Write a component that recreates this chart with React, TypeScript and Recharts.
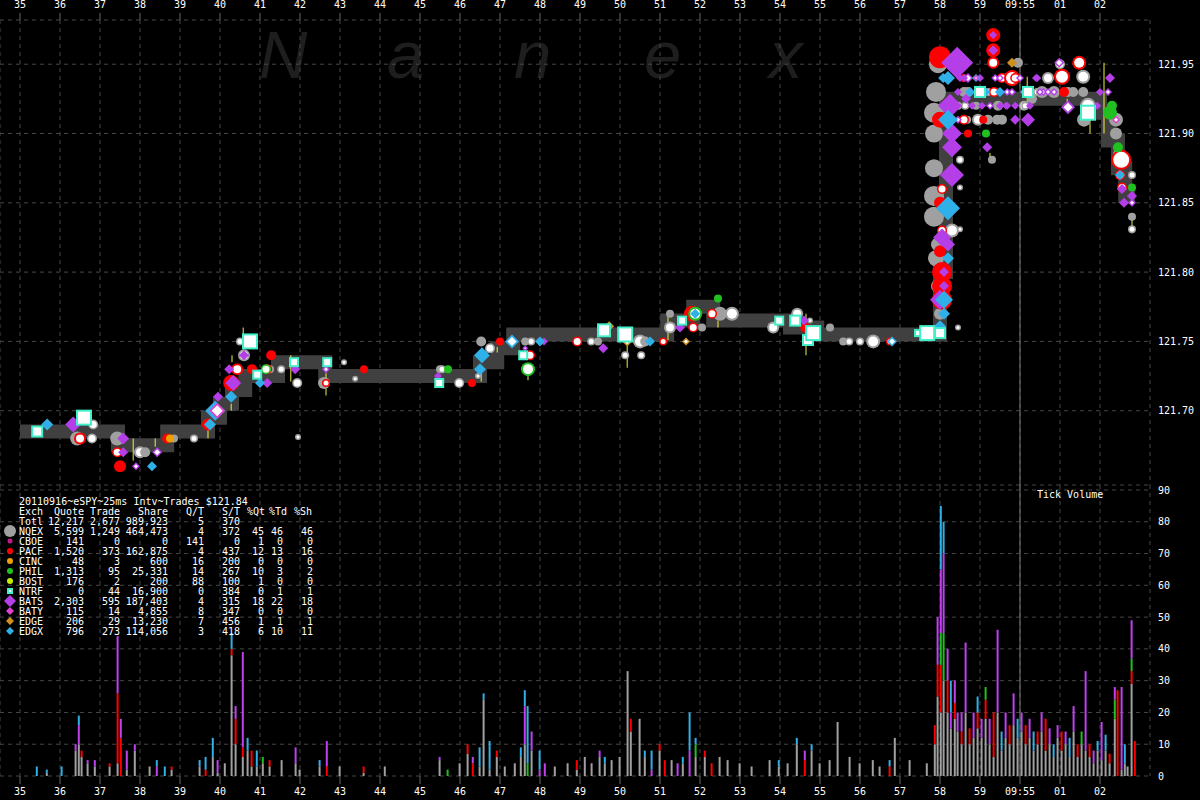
import React from 'react';
import {
  ComposedChart, Line, Scatter, Bar, XAxis, YAxis, CartesianGrid, ReferenceLine, ErrorBar,
} from 'recharts';

const MONO = '"DejaVu Sans Mono", "Liberation Mono", monospace';

// ---------- axes ----------
const minuteTicks = [35, 36, 37, 38, 39, 40, 41, 42, 43, 44, 45, 46, 47, 48, 49, 50, 51, 52, 53, 54, 55, 56, 57, 58, 59, 60, 61, 62];
const minuteLabels = ['35', '36', '37', '38', '39', '40', '41', '42', '43', '44', '45', '46', '47', '48', '49', '50', '51', '52', '53', '54', '55', '56', '57', '58', '59', '09:55', '01', '02'];
const priceTicks = [121.65, 121.7, 121.75, 121.8, 121.85, 121.9, 121.95];
const volumeTicks = [0, 10, 20, 30, 40, 50, 60, 70, 80, 90];
const timeDomain: [number, number] = [34.5, 63.25];
const priceDomain: [number, number] = [121.6464, 121.9819];
const volumeDomain: [number, number] = [0, 91.57];

// ---------- quote band (mid price, stepped) ----------
const quoteBand: [number, number][] = [
  [35.0, 121.685], [37.45, 121.675], [38.68, 121.685], [39.7, 121.695], [40.0, 121.705],
  [40.3, 121.715], [40.63, 121.725], [41.45, 121.735], [42.63, 121.725], [46.5, 121.735],
  [46.93, 121.745], [47.33, 121.755], [51.18, 121.765], [51.83, 121.775], [52.33, 121.765],
  [54.25, 121.76], [54.93, 121.755], [57.9, 121.755], [58.0, 121.8], [58.15, 121.925],
  [62.0, 121.915], [62.2, 121.895], [62.45, 121.875], [62.63, 121.855], [62.88, 121.855],
];

// ---------- trades / quotes: [minute, price, size, hollow] ----------
type Pt = [number, number, number, number];

const nqexPts: Pt[] = [
  [36.43, 121.68, 7, 0], [36.83, 121.69, 5, 1], [36.8, 121.68, 5, 1], [37.43, 121.68, 7, 0],
  [38.0, 121.67, 6, 1], [38.13, 121.67, 5, 0], [38.85, 121.68, 4, 0], [39.35, 121.68, 4, 1],
  [40.5, 121.75, 4, 1], [40.6, 121.74, 6, 1], [41.25, 121.73, 4, 0], [41.53, 121.73, 4, 1],
  [41.93, 121.72, 5, 1], [41.95, 121.681, 3, 1], [42.6, 121.72, 6, 0], [43.1, 121.735, 3, 1],
  [43.38, 121.723, 3, 1], [45.5, 121.73, 4, 0], [45.55, 121.73, 4, 1], [45.98, 121.72, 5, 1],
  [46.45, 121.725, 3, 1], [46.53, 121.75, 5, 0], [46.75, 121.745, 5, 1], [47.63, 121.75, 4, 0],
  [47.78, 121.75, 4, 1], [49.28, 121.75, 4, 1], [49.45, 121.75, 4, 0], [50.13, 121.74, 4, 1],
  [50.5, 121.75, 7, 1], [50.63, 121.75, 5, 0], [50.53, 121.74, 4, 1], [51.25, 121.77, 4, 0],
  [51.25, 121.76, 6, 1], [52.05, 121.76, 4, 0], [52.5, 121.77, 7, 0], [52.8, 121.77, 7, 1],
  [53.83, 121.76, 6, 1], [54.43, 121.77, 6, 1], [54.75, 121.765, 3, 1], [55.25, 121.76, 4, 0],
  [55.58, 121.75, 4, 0], [55.73, 121.75, 4, 1], [56.0, 121.75, 4, 1], [56.33, 121.75, 7, 1],
  [57.95, 121.95, 9, 0], [57.9, 121.93, 10, 0], [57.85, 121.915, 10, 0], [57.85, 121.9, 9, 0],
  [57.85, 121.875, 9, 0], [57.85, 121.855, 10, 0], [57.85, 121.84, 10, 0], [57.95, 121.82, 7, 0],
  [57.9, 121.81, 8, 0], [57.95, 121.79, 7, 0], [58.0, 121.77, 6, 0],
  [58.3, 121.83, 7, 1], [58.5, 121.831, 3, 1], [58.5, 121.881, 4, 1], [58.5, 121.861, 3, 1],
  [58.45, 121.76, 3, 1], [58.45, 121.92, 4, 1], [58.63, 121.92, 4, 1], [58.6, 121.93, 5, 0],
  [58.68, 121.91, 4, 0], [58.7, 121.93, 5, 0], [58.9, 121.92, 4, 0], [58.95, 121.91, 6, 1],
  [59.2, 121.93, 4, 1], [59.2, 121.91, 5, 0], [59.3, 121.881, 4, 0], [59.38, 121.93, 4, 1],
  [59.43, 121.91, 5, 0], [59.45, 121.92, 5, 0], [59.55, 121.91, 5, 0], [59.68, 121.94, 5, 0],
  [59.95, 121.951, 5, 0], [60.1, 121.92, 5, 1], [60.13, 121.92, 4, 1], [60.3, 121.925, 5, 0],
  [60.43, 121.93, 4, 1], [60.55, 121.93, 6, 0], [60.7, 121.94, 6, 1], [60.85, 121.93, 6, 0],
  [61.0, 121.95, 5, 1], [61.2, 121.93, 5, 0], [61.33, 121.93, 5, 0], [61.58, 121.93, 5, 0],
  [61.58, 121.941, 7, 1], [61.6, 121.91, 7, 0], [61.7, 121.92, 8, 1],
  [62.4, 121.91, 7, 0], [62.4, 121.9, 6, 0], [62.45, 121.885, 5, 0], [62.8, 121.87, 4, 1],
  [62.8, 121.84, 4, 0], [62.8, 121.831, 4, 1],
];

const pacfPts: Pt[] = [
  [36.5, 121.68, 6, 1], [37.43, 121.67, 5, 1], [37.5, 121.66, 6, 0], [38.68, 121.68, 5, 0],
  [39.7, 121.69, 6, 0], [40.28, 121.72, 8, 0], [40.43, 121.73, 6, 1], [40.8, 121.73, 5, 0],
  [41.28, 121.74, 5, 0], [41.18, 121.73, 5, 1], [42.65, 121.72, 4, 1], [43.6, 121.73, 4, 0],
  [46.3, 121.72, 4, 0], [47.0, 121.75, 4, 0], [47.75, 121.74, 5, 1], [48.93, 121.75, 5, 1],
  [51.08, 121.75, 4, 1], [51.8, 121.77, 8, 0], [51.83, 121.76, 5, 1], [52.3, 121.77, 5, 1],
  [54.63, 121.76, 5, 0], [56.75, 121.75, 4, 1], [58.0, 121.955, 11, 0], [58.0, 121.91, 8, 0],
  [58.0, 121.85, 6, 0], [58.05, 121.86, 5, 1], [58.05, 121.83, 5, 1], [58.0, 121.815, 6, 0],
  [58.05, 121.8, 10, 0], [58.05, 121.79, 10, 0], [58.05, 121.78, 10, 0], [58.6, 121.94, 4, 1],
  [58.6, 121.91, 5, 1], [58.7, 121.9, 4, 0], [59.08, 121.91, 4, 0], [59.33, 121.971, 7, 0],
  [59.33, 121.96, 7, 0], [59.33, 121.951, 6, 1], [59.35, 121.93, 5, 1], [59.55, 121.94, 5, 1],
  [59.8, 121.94, 8, 1], [59.88, 121.94, 5, 1], [60.15, 121.93, 5, 1], [61.05, 121.941, 8, 1],
  [61.1, 121.93, 5, 0], [61.48, 121.951, 7, 1],
  [62.53, 121.881, 10, 1], [62.5, 121.87, 5, 1], [62.55, 121.861, 5, 1],
];

const philPts: Pt[] = [
  [41.15, 121.73, 5, 1], [45.7, 121.73, 4, 0], [47.7, 121.73, 7, 1], [51.88, 121.77, 7, 1],
  [52.45, 121.781, 4, 0], [59.15, 121.9, 4, 0], [62.25, 121.915, 7, 0], [62.3, 121.92, 5, 0],
  [62.45, 121.89, 5, 0], [62.8, 121.861, 4, 0],
];

const cincPts: Pt[] = [[38.75, 121.68, 4, 0]];

const batsPts: Pt[] = [
  [36.33, 121.69, 8, 0], [37.58, 121.68, 6, 0], [37.58, 121.67, 5, 0], [37.9, 121.66, 4, 1],
  [38.43, 121.67, 5, 1], [39.95, 121.71, 5, 0], [40.33, 121.72, 8, 0], [40.23, 121.73, 5, 0],
  [40.6, 121.74, 5, 0], [41.18, 121.72, 5, 0], [41.88, 121.73, 5, 0], [42.65, 121.73, 4, 1],
  [45.45, 121.725, 4, 0], [47.63, 121.745, 3, 1], [48.1, 121.75, 4, 0], [49.58, 121.745, 5, 0],
  [51.5, 121.76, 5, 0], [54.6, 121.765, 5, 0], [58.43, 121.951, 16, 0], [58.25, 121.92, 12, 0],
  [58.3, 121.9, 10, 0], [58.3, 121.89, 10, 0], [58.3, 121.87, 12, 0], [58.05, 121.825, 9, 0],
  [58.2, 121.82, 7, 0], [58.1, 121.8, 5, 0], [58.1, 121.79, 5, 0], [58.0, 121.78, 10, 0],
  [58.45, 121.93, 4, 0], [58.45, 121.91, 4, 1], [58.5, 121.94, 4, 0], [58.7, 121.94, 5, 1],
  [58.8, 121.92, 4, 0], [59.05, 121.92, 4, 0], [59.25, 121.92, 4, 1], [59.38, 121.94, 4, 1],
  [59.5, 121.92, 4, 0], [59.68, 121.93, 4, 1], [59.68, 121.92, 4, 0], [59.88, 121.92, 4, 0],
  [60.25, 121.92, 4, 0], [60.43, 121.94, 4, 0], [60.58, 121.93, 4, 1], [60.7, 121.93, 4, 1],
  [60.85, 121.93, 4, 1], [61.93, 121.92, 4, 0], [62.0, 121.93, 4, 0], [62.2, 121.93, 4, 1],
  [59.33, 121.971, 4, 0], [59.33, 121.96, 5, 0], [58.6, 121.94, 4, 0], [58.65, 121.925, 5, 0],
  [59.0, 121.94, 4, 0], [59.18, 121.89, 5, 0], [59.5, 121.94, 4, 1], [59.65, 121.92, 4, 0],
  [59.88, 121.91, 5, 0], [59.8, 121.93, 4, 1], [60.0, 121.94, 4, 1], [60.1, 121.93, 4, 1],
  [60.2, 121.91, 7, 0], [60.4, 121.94, 4, 0], [60.5, 121.93, 4, 1], [60.98, 121.951, 5, 1],
  [61.2, 121.919, 7, 1], [62.25, 121.94, 5, 0], [62.55, 121.86, 5, 0], [62.6, 121.85, 5, 0],
  [62.8, 121.855, 5, 0], [62.8, 121.85, 4, 1],
];

const edgxPts: Pt[] = [
  [35.68, 121.69, 6, 0], [38.3, 121.66, 5, 0], [39.75, 121.69, 6, 0], [39.88, 121.7, 10, 0],
  [40.28, 121.71, 6, 0], [41.0, 121.72, 5, 0], [46.5, 121.73, 6, 0], [46.55, 121.74, 8, 0],
  [47.3, 121.75, 7, 1], [48.0, 121.75, 5, 0], [50.75, 121.75, 5, 0], [51.88, 121.77, 5, 0],
  [56.8, 121.75, 5, 1], [58.0, 121.761, 6, 0], [58.1, 121.77, 6, 0], [58.1, 121.78, 9, 0],
  [58.2, 121.81, 6, 0], [58.2, 121.846, 12, 0], [58.2, 121.91, 10, 0], [58.2, 121.94, 7, 0],
  [58.08, 121.94, 5, 0], [58.75, 121.93, 5, 0], [59.13, 121.93, 5, 0], [59.5, 121.93, 5, 0],
  [60.13, 121.93, 5, 0], [62.5, 121.87, 5, 0], [58.9, 121.94, 4, 0],
];

const batyPts: Pt[] = [[39.93, 121.7, 8, 1], [62.4, 121.91, 4, 1], [58.9, 121.94, 3, 1]];

const edgePts: Pt[] = [
  [49.73, 121.761, 5, 0], [50.18, 121.75, 5, 1], [51.65, 121.75, 4, 1], [59.8, 121.951, 5, 0],
];

const ntrfPts: Pt[] = [
  [35.43, 121.685, 6, 1], [36.6, 121.695, 8, 1], [40.75, 121.75, 8, 1], [40.93, 121.726, 5, 1],
  [41.85, 121.735, 5, 1], [42.68, 121.735, 5, 1], [45.48, 121.72, 5, 1], [47.58, 121.74, 5, 1],
  [49.6, 121.758, 7, 1], [50.13, 121.755, 8, 1], [51.55, 121.765, 5, 1], [53.98, 121.765, 5, 1],
  [54.38, 121.765, 6, 1], [54.7, 121.751, 6, 1], [54.83, 121.756, 8, 1], [57.45, 121.756, 4, 1],
  [57.68, 121.756, 8, 1], [58.0, 121.756, 6, 1], [59.0, 121.93, 6, 1], [60.2, 121.93, 6, 1],
  [61.7, 121.915, 8, 1],
];

// yellow trade-range ticks: [minute, low, high]
const yellowTicks: [number, number, number][] = [
  [40.58, 121.748, 121.76], [41.77, 121.721, 121.74], [42.65, 121.711, 121.727], [46.53, 121.721, 121.728],
  [46.93, 121.742, 121.746], [40.3, 121.735, 121.74], [37.83, 121.664, 121.68], [38.38, 121.674, 121.68],
  [39.7, 121.68, 121.686], [40.28, 121.7, 121.705], [47.7, 121.722, 121.734], [50.18, 121.731, 121.747],
  [51.2, 121.751, 121.768], [52.45, 121.76, 121.765], [54.65, 121.74, 121.77], [62.1, 121.9, 121.951],
  [61.75, 121.9, 121.908], [60.18, 121.919, 121.941], [59.25, 121.879, 121.886], [62.8, 121.828, 121.838],
  [61.18, 121.917, 121.925],
];

// ---------- tick volume: [minute, NQEX, PACF, PHIL, BATS, EDGX] ----------
type VolRow = [number, number, number, number, number, number];
const volumeRows: VolRow[] = [
  [35.43, 0, 0, 0, 0, 3], [35.68, 1, 0, 0, 0, 1], [36.05, 0, 0, 0, 0, 3], [36.4, 8, 0, 0, 2, 0],
  [36.48, 10, 0, 0, 6, 3], [36.55, 6, 2, 0, 0, 0], [36.7, 4, 0, 0, 1, 0], [36.88, 3, 0, 0, 2, 0],
  [37.25, 3, 1, 0, 0, 0], [37.45, 4, 22, 0, 18, 0], [37.53, 0, 12, 0, 6, 0], [37.68, 2, 0, 0, 6, 0],
  [37.88, 8, 0, 0, 2, 0], [38.25, 3, 0, 0, 0, 0], [38.43, 0, 0, 0, 3, 2], [38.63, 0, 0, 0, 0, 3],
  [38.8, 2, 1, 0, 0, 0], [39.5, 3, 0, 0, 0, 2], [39.65, 0, 2, 0, 0, 4], [39.83, 6, 0, 0, 0, 6],
  [39.95, 1, 0, 0, 4, 0], [40.13, 4, 0, 0, 0, 0], [40.3, 38, 2, 0, 0, 5], [40.4, 10, 8, 0, 4, 0],
  [40.58, 6, 3, 0, 30, 0], [40.7, 8, 0, 0, 0, 4], [40.8, 3, 5, 0, 0, 0], [40.93, 3, 0, 0, 0, 5],
  [41.08, 4, 0, 2, 0, 0], [41.25, 3, 2, 0, 0, 0], [41.55, 5, 0, 0, 0, 0], [41.9, 4, 0, 0, 5, 0],
  [42.0, 2, 0, 0, 0, 0], [42.5, 3, 0, 0, 0, 2], [42.68, 0, 3, 0, 8, 0], [43.0, 3, 0, 0, 0, 0],
  [43.6, 1, 2, 0, 0, 0], [44.13, 3, 0, 0, 0, 0], [45.5, 5, 0, 0, 1, 0], [45.7, 0, 0, 2, 0, 0],
  [46.0, 4, 0, 0, 0, 0], [46.2, 7, 3, 0, 0, 0], [46.33, 0, 4, 0, 2, 0], [46.5, 3, 0, 0, 0, 6],
  [46.6, 24, 0, 0, 0, 2], [46.75, 2, 0, 0, 0, 9], [46.93, 6, 2, 0, 0, 0], [47.13, 3, 0, 0, 0, 0],
  [47.38, 4, 0, 0, 0, 0], [47.53, 6, 0, 0, 0, 3], [47.63, 10, 0, 0, 12, 5], [47.7, 0, 0, 4, 0, 18],
  [47.8, 8, 0, 0, 6, 0], [48.0, 0, 0, 0, 2, 6], [48.13, 0, 0, 0, 4, 0], [48.38, 3, 0, 0, 0, 0],
  [48.7, 4, 0, 0, 0, 0], [48.93, 2, 3, 0, 0, 0], [49.13, 6, 0, 0, 0, 0], [49.3, 4, 0, 0, 0, 0],
  [49.5, 6, 0, 0, 2, 0], [49.63, 4, 0, 0, 0, 2], [49.8, 5, 0, 0, 0, 0], [50.0, 6, 0, 0, 0, 0],
  [50.2, 33, 0, 0, 0, 0], [50.28, 14, 4, 0, 0, 0], [50.5, 18, 0, 0, 0, 0], [50.63, 6, 0, 0, 0, 2],
  [50.8, 0, 0, 0, 2, 6], [51.0, 8, 2, 0, 0, 0], [51.13, 0, 5, 0, 0, 0], [51.3, 5, 0, 0, 0, 0],
  [51.45, 0, 0, 0, 4, 0], [51.58, 4, 0, 0, 0, 2], [51.75, 0, 0, 0, 8, 12], [51.9, 6, 0, 4, 0, 2],
  [52.13, 6, 2, 0, 0, 0], [52.3, 0, 4, 0, 0, 0], [52.5, 6, 0, 0, 0, 0], [52.7, 5, 0, 0, 0, 0],
  [53.0, 4, 0, 0, 0, 0], [53.3, 3, 0, 0, 0, 0], [53.75, 5, 0, 0, 0, 0], [53.98, 3, 0, 0, 0, 2],
  [54.2, 4, 0, 0, 0, 0], [54.43, 10, 0, 0, 0, 2], [54.63, 0, 5, 0, 3, 0], [54.8, 8, 0, 0, 0, 2],
  [55.0, 4, 0, 0, 0, 0], [55.25, 5, 0, 0, 0, 0], [55.45, 17, 0, 0, 0, 0], [55.75, 6, 0, 0, 0, 0],
  [56.0, 4, 0, 0, 0, 0], [56.33, 5, 0, 0, 0, 0], [56.5, 3, 0, 0, 0, 0], [56.75, 0, 3, 0, 0, 2],
  [56.88, 12, 0, 0, 0, 0], [57.25, 5, 0, 0, 0, 0], [57.68, 4, 0, 0, 0, 0], [57.88, 10, 6, 0, 0, 0],
  [57.95, 25, 10, 0, 15, 0], [58.03, 20, 15, 10, 20, 20], [58.1, 30, 0, 15, 25, 10], [58.2, 20, 10, 0, 10, 0],
  [58.28, 15, 0, 0, 5, 10], [58.38, 18, 5, 0, 7, 0], [58.45, 14, 0, 0, 6, 0], [58.55, 10, 4, 0, 6, 0],
  [58.65, 20, 0, 0, 22, 0], [58.75, 10, 5, 0, 0, 0], [58.85, 12, 0, 0, 8, 0], [58.95, 15, 5, 0, 0, 5],
  [59.05, 12, 0, 0, 6, 0], [59.15, 18, 6, 4, 0, 0], [59.25, 10, 0, 0, 8, 0], [59.35, 6, 14, 0, 0, 0],
  [59.45, 20, 0, 0, 26, 0], [59.55, 8, 0, 0, 0, 6], [59.65, 12, 0, 0, 8, 0], [59.75, 10, 6, 0, 0, 0],
  [59.85, 16, 0, 0, 10, 0], [59.95, 12, 0, 0, 0, 6], [60.05, 14, 0, 0, 6, 0], [60.15, 10, 6, 0, 0, 0],
  [60.25, 12, 0, 0, 6, 0], [60.35, 8, 0, 0, 0, 6], [60.45, 10, 4, 0, 0, 0], [60.55, 14, 0, 0, 6, 0],
  [60.65, 8, 10, 0, 0, 0], [60.75, 10, 0, 0, 5, 0], [60.85, 6, 0, 0, 0, 4], [60.95, 12, 0, 0, 4, 0],
  [61.05, 8, 6, 0, 0, 0], [61.15, 10, 0, 0, 4, 0], [61.25, 6, 0, 0, 0, 6], [61.35, 14, 0, 0, 8, 0],
  [61.45, 6, 4, 0, 0, 0], [61.55, 10, 0, 4, 0, 0], [61.65, 8, 0, 0, 25, 0], [61.75, 6, 4, 0, 0, 0],
  [61.85, 4, 0, 0, 4, 0], [61.95, 8, 0, 0, 0, 3], [62.05, 5, 0, 0, 12, 0], [62.15, 8, 0, 0, 0, 5],
  [62.25, 4, 3, 0, 0, 0], [62.38, 18, 0, 6, 4, 0], [62.45, 0, 27, 0, 0, 0], [62.55, 2, 0, 0, 26, 0],
  [62.63, 4, 0, 0, 0, 6], [62.7, 3, 0, 0, 0, 0], [62.8, 29, 4, 4, 12, 0], [62.88, 0, 11, 0, 0, 0],
];

// ---------- summary table ----------
const tableTitle = '20110916~eSPY~25ms Intv~Trades $121.84';
const tableHeader = ['Exch', 'Quote', 'Trade', 'Share', 'Q/T', 'S/T', '%Qt', '%Td', '%Sh'];
const tableRows: string[][] = [
  ['Totl', '12,217', '2,677', '989,923', '5', '370', '', '', ''],
  ['NQEX', '5,599', '1,249', '464,473', '4', '372', '45', '46', '46'],
  ['CBOE', '141', '0', '0', '141', '0', '1', '0', '0'],
  ['PACF', '1,520', '373', '162,875', '4', '437', '12', '13', '16'],
  ['CINC', '48', '3', '600', '16', '200', '0', '0', '0'],
  ['PHIL', '1,313', '95', '25,331', '14', '267', '10', '3', '2'],
  ['BOST', '176', '2', '200', '88', '100', '1', '0', '0'],
  ['NTRF', '0', '44', '16,900', '0', '384', '0', '1', '1'],
  ['BATS', '2,303', '595', '187,403', '4', '315', '18', '22', '18'],
  ['BATY', '115', '14', '4,855', '8', '347', '0', '0', '0'],
  ['EDGE', '206', '29', '13,230', '7', '456', '1', '1', '1'],
  ['EDGX', '796', '273', '114,056', '3', '418', '6', '10', '11'],
];
const watermarkLetters = ['N', 'a', 'n', 'e', 'x'];

// ---------- styling ----------
const COLORS: Record<string, string> = {
  NQEX: '#a0a0a0', CBOE: '#c8188c', PACF: '#ff0000', CINC: '#f0a000', PHIL: '#20c020',
  BOST: '#c0f000', NTRF: '#40f0c8', BATS: '#b43ee8', BATY: '#e040d0', EDGE: '#d09020', EDGX: '#30b0e8',
};
const LEGEND_SHAPE: Record<string, [string, number]> = {
  NQEX: ['circle', 6], CBOE: ['circle', 2.5], PACF: ['circle', 3], CINC: ['circle', 3], PHIL: ['circle', 3],
  BOST: ['circle', 3], NTRF: ['square', 3], BATS: ['diamond', 6], BATY: ['diamond', 4], EDGE: ['diamond', 4], EDGX: ['diamond', 4],
};

const toPts = (a: Pt[]) => a.map(([t, p, s, h]) => ({ t, p, s, h }));

function drawMarker(kind: string, color: string, cx: number, cy: number, s: number, h: number, key?: string) {
  const ring = s >= 6 ? 2 : 1.5;
  if (kind === 'circle') {
    return (
      <g key={key}>
        <circle cx={cx} cy={cy} r={s} fill={color} />
        {h ? <circle cx={cx} cy={cy} r={Math.max(s - ring, 1)} fill="#ffffff" /> : null}
      </g>
    );
  }
  if (kind === 'diamond') {
    const d = (r: number) => `${cx},${cy - r} ${cx + r},${cy} ${cx},${cy + r} ${cx - r},${cy}`;
    return (
      <g key={key}>
        <polygon points={d(s)} fill={color} />
        {h ? <polygon points={d(Math.max(s - ring - 0.5, 1))} fill="#ffffff" /> : null}
      </g>
    );
  }
  return (
    <g key={key}>
      <rect x={cx - s} y={cy - s} width={2 * s} height={2 * s} fill={color} />
      <rect x={cx - s + 2} y={cy - s + 2} width={Math.max(2 * s - 4, 1)} height={Math.max(2 * s - 4, 1)} fill="#ffffff" />
    </g>
  );
}

const makeShape = (kind: string, color: string) => (props: any) => {
  const { cx, cy, payload } = props;
  if (cx == null || cy == null || Number.isNaN(cx) || Number.isNaN(cy)) return <g />;
  return drawMarker(kind, color, cx, cy, payload?.s ?? 4, payload?.h ?? 0);
};

const scatterSeries = [
  { name: 'NQEX', kind: 'circle', pts: nqexPts },
  { name: 'PACF', kind: 'circle', pts: pacfPts },
  { name: 'PHIL', kind: 'circle', pts: philPts },
  { name: 'CINC', kind: 'circle', pts: cincPts },
  { name: 'BATS', kind: 'diamond', pts: batsPts },
  { name: 'EDGX', kind: 'diamond', pts: edgxPts },
  { name: 'BATY', kind: 'diamond', pts: batyPts },
  { name: 'EDGE', kind: 'diamond', pts: edgePts },
  { name: 'NTRF', kind: 'square', pts: ntrfPts },
];

const tickStyle = { fill: '#ffffff', fontSize: 10, fontFamily: MONO };
const fmtMinute = (v: number) => {
  const i = minuteTicks.indexOf(Math.round(v));
  return i >= 0 ? minuteLabels[i] : '';
};

export default function App() {
  const bandData = quoteBand.map(([t, p]) => ({ t, p }));
  const yellowData = yellowTicks.map(([t, lo, hi]) => ({ t, p: (lo + hi) / 2, e: (hi - lo) / 2 }));
  const volData = volumeRows.map(([t, nq, pa, ph, bt, ex]) => ({ t, nq, pa, ph, bt, ex }));
  const colRight = [0, 84, 120, 168, 204, 240, 264, 283, 313];
  const headX = [19, 84, 120, 168, 204, 240, 247, 269, 294];

  return (
    <div style={{ position: 'absolute', left: 0, top: 0, width: 1200, height: 800, background: '#000', overflow: 'hidden' }}>
      {/* watermark */}
      <svg width={1200} height={800} style={{ position: 'absolute', left: 0, top: 0 }}>
        <text y={78} fontFamily='"Liberation Sans", Arial, sans-serif' fontStyle="italic" fontSize={67} fill="#1e1e1e">
          {watermarkLetters.map((c, i) => (
            <tspan key={i} x={[259, 387, 514, 644, 769][i]}>{c}</tspan>
          ))}
        </text>
      </svg>

      {/* price panel */}
      <div style={{ position: 'absolute', left: 0, top: 0 }}>
        <ComposedChart width={1200} height={485} margin={{ top: 0, right: 0, bottom: 0, left: 0 }}>
          <CartesianGrid stroke="#474747" strokeDasharray="4 4" />
          <XAxis
            xAxisId={0} dataKey="t" type="number" orientation="top" height={20}
            domain={timeDomain} allowDataOverflow ticks={minuteTicks} interval={0}
            tickFormatter={fmtMinute} tick={tickStyle} axisLine={false}
            tickLine={{ stroke: '#666' }} tickSize={7} tickMargin={5}
          />
          <YAxis
            yAxisId={0} dataKey="p" type="number" orientation="right" width={50}
            domain={priceDomain} allowDataOverflow ticks={priceTicks}
            tickFormatter={(v: number) => v.toFixed(2)} tick={tickStyle}
            axisLine={false} tickLine={false} tickSize={0} tickMargin={8}
          />
          <ReferenceLine x={60} stroke="#7a7a7a" strokeWidth={1} />
          <Line
            data={bandData} dataKey="p" type="stepAfter" stroke="#404040" strokeWidth={14}
            dot={false} activeDot={false} isAnimationActive={false}
          />
          <Scatter data={yellowData} dataKey="p" shape={() => <g />} isAnimationActive={false}>
            <ErrorBar dataKey="e" direction="y" width={0} stroke="#f0f040" strokeWidth={1} />
          </Scatter>
          {scatterSeries.map((s) => (
            <Scatter
              key={s.name} name={s.name} data={toPts(s.pts)} dataKey="p"
              shape={makeShape(s.kind, COLORS[s.name])} isAnimationActive={false}
            />
          ))}
        </ComposedChart>
      </div>

      {/* volume panel */}
      <div style={{ position: 'absolute', left: 0, top: 485 }}>
        <ComposedChart width={1200} height={315} data={volData} margin={{ top: 0, right: 0, bottom: 0, left: 0 }}>
          <CartesianGrid stroke="#474747" strokeDasharray="4 4" />
          <XAxis
            dataKey="t" type="number" orientation="bottom" height={24}
            domain={timeDomain} allowDataOverflow ticks={minuteTicks} interval={0}
            tickFormatter={fmtMinute} tick={tickStyle} axisLine={false}
            tickLine={{ stroke: '#666' }} tickSize={8} tickMargin={4}
          />
          <YAxis
            type="number" orientation="right" width={50} domain={volumeDomain} allowDataOverflow
            ticks={volumeTicks} tick={tickStyle} axisLine={false} tickLine={false} tickSize={0} tickMargin={8}
          />
          <ReferenceLine x={60} stroke="#7a7a7a" strokeWidth={1} />
          <Bar dataKey="nq" stackId="v" fill={COLORS.NQEX} barSize={2} isAnimationActive={false} />
          <Bar dataKey="pa" stackId="v" fill={COLORS.PACF} barSize={2} isAnimationActive={false} />
          <Bar dataKey="ph" stackId="v" fill={COLORS.PHIL} barSize={2} isAnimationActive={false} />
          <Bar dataKey="bt" stackId="v" fill="#c040f0" barSize={2} isAnimationActive={false} />
          <Bar dataKey="ex" stackId="v" fill={COLORS.EDGX} barSize={2} isAnimationActive={false} />
        </ComposedChart>
      </div>

      {/* table + labels overlay */}
      <svg width={1200} height={800} style={{ position: 'absolute', left: 0, top: 0, pointerEvents: 'none' }}>
        <g fontFamily={MONO} fontSize={10} fill="#ffffff">
          <text x={19} y={505}>{tableTitle}</text>
          {tableHeader.map((h, c) => (
            <text key={'h' + c} x={headX[c]} y={515} textAnchor={c === 0 || c >= 6 ? 'start' : 'end'}>{h}</text>
          ))}
          {tableRows.map((row, r) => (
            <g key={'r' + r}>
              {row.map((v, c) => (
                <text key={c} x={c === 0 ? 19 : colRight[c]} y={525 + r * 10} textAnchor={c === 0 ? 'start' : 'end'}>{v}</text>
              ))}
            </g>
          ))}
          <text x={1037} y={498}>Tick Volume</text>
        </g>
        {tableRows.slice(1).map((row, r) => {
          const [kind, s] = LEGEND_SHAPE[row[0]];
          return drawMarker(kind, COLORS[row[0]], 10, 531 + r * 10, s, kind === 'square' ? 1 : 0, 'lg' + r);
        })}
      </svg>
    </div>
  );
}
